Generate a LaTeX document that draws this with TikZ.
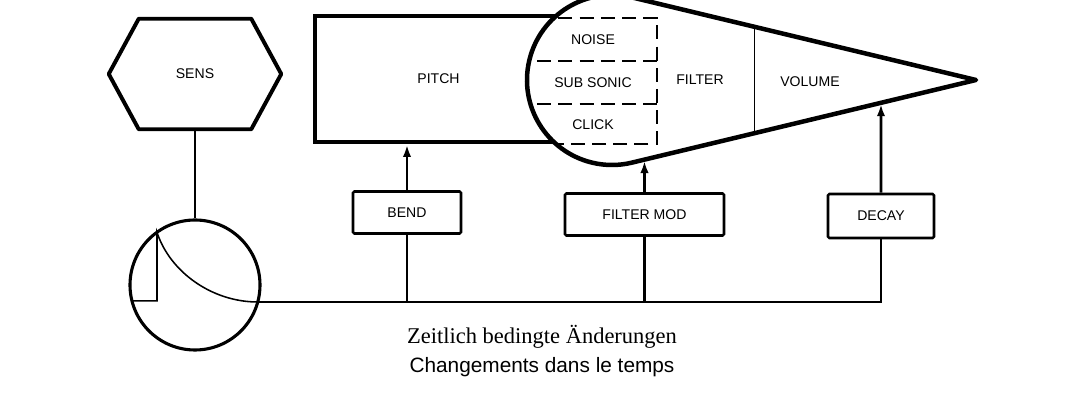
\documentclass[tikz,border=0pt]{standalone}
\usepackage{fontspec}
\setmainfont{Liberation Serif}
\setsansfont{Liberation Sans}
\usepackage{tikz}
\usetikzlibrary{positioning}
\usetikzlibrary{arrows.meta}
\usetikzlibrary{calc}

\begin{document}
\begin{tikzpicture}[
  line width=1.8pt,
  lbl/.style={font=\sffamily\fontsize{10}{12}\selectfont},
  box/.style={rectangle,draw,line width=1.8pt,rounded corners=1pt,
    minimum height=1.05cm,lbl},
  arr/.style={-{Latex[length=3mm,width=2.1mm]},line width=1.8pt,shorten >=1pt},
  splitline/.style={dash pattern=on 3.5mm off 1.8mm,line width=1.6pt}
]
  \useasboundingbox (0,0) rectangle (27.125,9.85);

  % SENS and envelope
  \node[lbl,minimum width=4.25cm,minimum height=2.7cm] (sens) at (4.875,8.0) {SENS};
  \draw[line width=2.8pt,line join=round]
    ([xshift=0.75cm]sens.north west) -- ([xshift=-0.75cm]sens.north east)
    -- (sens.east) -- ([xshift=-0.75cm]sens.south east)
    -- ([xshift=0.75cm]sens.south west) -- (sens.west) -- cycle;
  \node[circle,draw,line width=2.2pt,minimum size=3.25cm] (env) at (4.875,2.725) {};
  \draw (sens.south) -- (env.north);
  \coordinate (tap) at (6.443,2.3);
  \draw[line width=1.1pt] (3.294,2.33) -- (3.925,2.33) -- (3.925,4.04)
    .. controls (4.25,3.05) and (5.3,2.3) .. (tap);

  % PITCH block and the lobe
  \node[draw,line width=2.2pt,minimum width=6.175cm,minimum height=3.15cm,lbl]
    (pitch) at (10.9625,7.875) {PITCH};
  \coordinate (tip) at (24.4,7.85);
  \coordinate (hitan) at (15.796,9.916);
  \coordinate (lotan) at (15.796,5.784);
  \fill[white] (tip) -- (hitan) arc[start angle=76.5,end angle=283.5,radius=2.125cm] -- cycle;
  \begin{scope}
    \clip (15.3,7.85) circle[radius=2.125cm];
    \draw[splitline] (12.9,9.4) -- (16.425,9.4) -- (16.425,6.25) -- (12.9,6.25);
    \draw[splitline] (12.9,8.325) -- (16.425,8.325);
    \draw[splitline] (12.9,7.25) -- (16.425,7.25);
  \end{scope}
  \draw[line width=3.2pt,line join=round]
    (tip) -- (hitan) arc[start angle=76.5,end angle=283.5,radius=2.125cm] -- cycle;
  \draw[line width=0.6pt] (intersection of 18.85,9--18.85,5 and hitan--tip)
    -- (intersection of 18.85,9--18.85,5 and lotan--tip);

  \node[lbl] (noise) at (14.825,8.85) {NOISE};
  \node[lbl] (subs) at (14.825,7.775) {SUB SONIC};
  \node[lbl] (click) at (14.825,6.725) {CLICK};
  \node[lbl] (filt) at (17.5,7.85) {FILTER};
  \node[lbl] (vol) at (20.25,7.8) {VOLUME};

  % modulation boxes
  \node[box,minimum width=2.7cm] (bend) at (10.175,4.5375) {BEND};
  \node[box,minimum width=3.975cm] (fmod) at (16.1125,4.4875) {FILTER MOD};
  \node[box,minimum width=2.65cm,minimum height=1.1cm] (decay) at (22.025,4.45) {DECAY};

  \draw[arr] (bend.north) -- (bend.north |- pitch.south);
  \draw[arr] (fmod.north) -- (intersection of fmod.north--fmod.center and lotan--tip);
  \draw[arr] (decay.north) -- (intersection of decay.north--decay.center and lotan--tip);

  \draw (tap) -| (decay.south);
  \draw (bend.south) -- (bend.south |- tap);
  \draw (fmod.south) -- (fmod.south |- tap);

  \node[font=\fontsize{16}{19}\selectfont] (cap1) at (13.55,1.425) {Zeitlich bedingte Änderungen};
  \node[font=\sffamily\fontsize{14.8}{17}\selectfont] (cap2) at (13.55,0.675) {Changements dans le temps};
\end{tikzpicture}
\end{document}
